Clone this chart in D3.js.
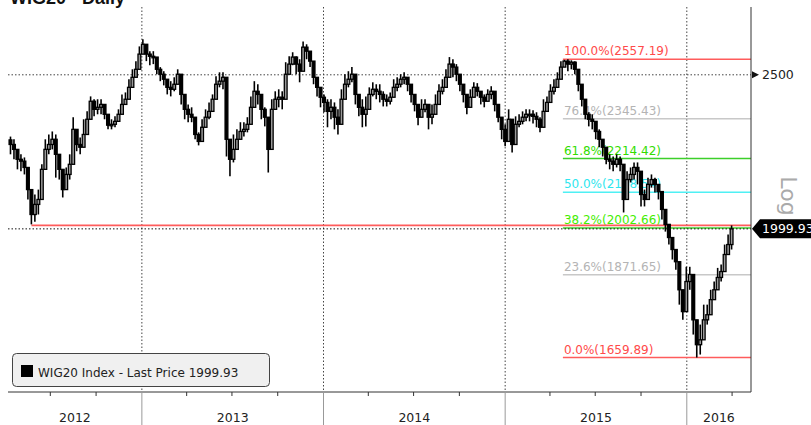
<!DOCTYPE html>
<html><head><meta charset="utf-8">
<script src="https://cdn.jsdelivr.net/npm/d3@7"></script>
<style>html,body{margin:0;padding:0;background:#fff;overflow:hidden}</style>
</head><body>
<svg id="c" width="811" height="425"></svg>
<script>
const title = "WIG20 - Daily";
const firstWeek = "2012-04-09";
const firstOpen = 2275;
const closes = [
2260,2244,2212,2206,2186,2117,2042,2072,2087,2180,
2244,2260,2277,2228,2180,2117,2164,2196,2310,2260,
2251,2293,2344,2406,2378,2385,2395,2361,2324,2327,
2337,2361,2395,2413,2455,2491,2520,2576,2613,2576,
2568,2565,2520,2502,2484,2455,2448,2466,2502,2430,
2378,2361,2351,2293,2270,2317,2351,2371,2413,2466,
2477,2491,2277,2212,2244,2277,2303,2310,2327,2385,
2441,2430,2378,2351,2244,2378,2413,2420,2413,2502,
2539,2565,2539,2513,2602,2587,2550,2491,2455,2420,
2402,2371,2385,2351,2327,2413,2466,2484,2502,2430,
2385,2361,2378,2430,2448,2441,2430,2413,2406,2420,
2455,2466,2484,2491,2466,2430,2395,2351,2378,2395,
2351,2361,2395,2441,2455,2491,2539,2528,2502,2466,
2430,2385,2420,2455,2441,2420,2406,2430,2441,2395,
2351,2310,2270,2344,2260,2327,2337,2351,2361,2361,
2354,2344,2317,2371,2402,2441,2455,2484,2528,2550,
2539,2546,2520,2466,2413,2361,2344,2337,2303,2277,
2251,2212,2206,2196,2212,2196,2087,2148,2164,2186,
2174,2102,2087,2133,2148,2133,2111,2057,2013,1975,
1941,1907,1831,1774,1853,1872,1753,1691,1703,1753,
1766,1805,1831,1864,1880,1927,1955,1999.93];
const highs = [
2286,2277,2244,2228,2218,2174,2102,2102,2117,2196,
2277,2293,2303,2293,2202,2164,2186,2228,2351,2310,
2283,2344,2371,2423,2413,2413,2413,2395,2361,2344,
2354,2378,2430,2437,2484,2520,2550,2605,2632,2605,
2587,2587,2557,2528,2513,2484,2477,2491,2520,2502,
2423,2395,2385,2344,2300,2344,2378,2402,2430,2495,
2509,2509,2466,2277,2293,2310,2334,2334,2351,2423,
2477,2466,2420,2385,2317,2413,2441,2448,2441,2546,
2568,2583,2568,2557,2624,2613,2587,2520,2484,2441,
2430,2413,2413,2402,2378,2448,2502,2513,2528,2466,
2430,2413,2423,2455,2473,2466,2466,2441,2430,2437,
2484,2491,2502,2509,2491,2466,2430,2385,2413,2413,
2378,2395,2430,2466,2484,2520,2565,2557,2539,2491,
2459,2413,2448,2473,2470,2437,2430,2448,2459,2430,
2395,2344,2327,2378,2310,2354,2361,2371,2378,2378,
2375,2368,2351,2413,2423,2466,2484,2509,2550,2555,
2557.19,2553,2550,2513,2448,2395,2368,2361,2327,2310,
2277,2244,2228,2221,2228,2221,2180,2174,2186,2202,
2202,2148,2117,2154,2164,2154,2133,2102,2042,2004,
1969,1935,1890,1818,1893,1893,1805,1728,1741,1792,
1792,1831,1853,1890,1899,1955,1984,2010];
const lows = [
2228,2212,2180,2174,2164,2087,2013,2021,2042,2087,
2196,2228,2244,2154,2148,2093,2133,2148,2244,2238,
2228,2260,2293,2361,2354,2361,2361,2344,2310,2310,
2317,2337,2371,2395,2420,2466,2491,2550,2576,2550,
2535,2539,2502,2477,2462,2430,2423,2441,2477,2395,
2344,2334,2334,2277,2257,2283,2327,2344,2378,2441,
2455,2448,2221,2158,2202,2244,2283,2286,2300,2354,
2413,2395,2344,2320,2170,2327,2378,2385,2378,2466,
2513,2535,2502,2473,2557,2557,2528,2466,2423,2385,
2368,2317,2344,2310,2293,2378,2441,2455,2473,2395,
2354,2317,2320,2413,2423,2413,2402,2388,2388,2395,
2430,2441,2455,2466,2441,2402,2371,2324,2361,2368,
2310,2327,2361,2413,2430,2459,2513,2491,2477,2441,
2402,2361,2385,2430,2423,2395,2385,2406,2413,2371,
2334,2277,2254,2300,2234,2300,2317,2327,2337,2337,
2330,2317,2300,2344,2378,2423,2430,2459,2502,2528,
2513,2520,2502,2441,2388,2344,2320,2310,2277,2251,
2221,2196,2180,2174,2186,2174,2048,2102,2139,2148,
2133,2066,2066,2102,2123,2108,2087,2027,1992,1955,
1913,1885,1792,1753,1779,1831,1716,1659.89,1667,1716,
1741,1779,1805,1845,1853,1899,1927,1941];
const yearLabels = ["2012","2013","2014","2015","2016"];
const yTicks = [2500];
const lastPrice = 1999.93;
const supportLevel = 2010;
const supportStart = "2012-05-24";
const fibHigh = 2557.19, fibLow = 1659.89;
const fibStart = "2015-04-27";
const fibRatios = [1, 0.764, 0.618, 0.5, 0.382, 0.236, 0];
const fibLineColors = ["#ff5c5c","#c8c8c8","#3ccf2a","#4ff0f4","#3ccf2a","#c8c8c8","#ff5c5c"];
const fibTextColors = ["#ff4a4a","#b4b4b4","#33dd00","#2ee6ee","#44ee00","#b4b4b4","#ff4a4a"];
const legendLabel = "WIG20 Index - Last Price 1999.93";
const scaleLabel = "Log";

const L = 8, R = 751, T = 7, B = 392;
const svg = d3.select("#c");
const FONT = "DejaVu Sans, Verdana, sans-serif";
const parse = d3.utcParse("%Y-%m-%d");

const x = d3.scaleUtc().domain([new Date(Date.UTC(2012,3,7)), new Date(Date.UTC(2016,4,9))]).range([L, R]);
const y = d3.scaleLog().domain([1579, 2758]).range([B, T]);

const w0 = parse(firstWeek);
const data = closes.map((c, i) => ({
  date: d3.utcDay.offset(w0, i * 7 + 3),
  open: i === 0 ? firstOpen : closes[i - 1],
  close: c, high: highs[i], low: lows[i]
}));

// title (cut off at top as in reference)
svg.append("text").attr("x", 10).attr("y", 4)
  .attr("font-family", "Liberation Sans, Arial, sans-serif").attr("font-weight", "bold")
  .attr("font-size", 18).attr("fill", "#111").text(title);

// grid: year boundaries
const years = d3.utcYear.range(x.domain()[0], x.domain()[1]).filter(d => x(d) > L + 1);
const g = svg.append("g");
g.selectAll("line.vg").data(years).join("line")
  .attr("x1", d => x(d)).attr("x2", d => x(d)).attr("y1", T).attr("y2", B)
  .attr("stroke", "#444").attr("stroke-dasharray", "1.5,2");
g.selectAll("line.hg").data(yTicks).join("line")
  .attr("x1", L).attr("x2", R).attr("y1", d => y(d)).attr("y2", d => y(d))
  .attr("stroke", "#444").attr("stroke-dasharray", "1.5,2");

// fib lines and labels
const fx = x(parse(fibStart));
const fibs = fibRatios.map((r, i) => ({ r, v: fibLow + r * (fibHigh - fibLow), lc: fibLineColors[i], tc: fibTextColors[i] }));
g.selectAll("line.fib").data(fibs).join("line")
  .attr("x1", fx).attr("x2", R).attr("y1", d => y(d.v)).attr("y2", d => y(d.v))
  .attr("stroke", d => d.lc).attr("stroke-width", 1.5);
g.selectAll("text.fib").data(fibs).join("text")
  .attr("x", fx + 1).attr("y", d => y(d.v) - 4)
  .attr("font-family", FONT).attr("font-size", 12).attr("fill", d => d.tc)
  .text(d => (d.r * 100).toFixed(1) + "%(" + d.v.toFixed(2) + ")");

// support line
g.append("line").attr("x1", x(parse(supportStart))).attr("x2", R)
  .attr("y1", y(supportLevel)).attr("y2", y(supportLevel))
  .attr("stroke", "#ff5c5c").attr("stroke-width", 1.6);

// candles
const cw = 2.8;
const cg = svg.append("g");
cg.selectAll("line.wick").data(data).join("line")
  .attr("x1", d => x(d.date)).attr("x2", d => x(d.date))
  .attr("y1", d => y(Math.max(d.high, d.open, d.close)))
  .attr("y2", d => y(Math.min(d.low, d.open, d.close)))
  .attr("stroke", "#000").attr("stroke-width", 1.6);
cg.selectAll("rect.body").data(data).join("rect")
  .attr("x", d => x(d.date) - cw / 2).attr("width", cw)
  .attr("y", d => y(Math.max(d.open, d.close)))
  .attr("height", d => Math.max(1.5, Math.abs(y(d.open) - y(d.close))))
  .attr("fill", d => d.close >= d.open ? "#9a9a9a" : "#000")
  .attr("stroke", "#000").attr("stroke-width", 1.3);

// last price dotted line
svg.append("line").attr("x1", L).attr("x2", R)
  .attr("y1", y(lastPrice)).attr("y2", y(lastPrice))
  .attr("stroke", "#111").attr("stroke-dasharray", "1.5,2");

// axes frame
svg.append("line").attr("x1", L).attr("x2", R).attr("y1", B).attr("y2", B).attr("stroke", "#333");
svg.append("line").attr("x1", R).attr("x2", R).attr("y1", T).attr("y2", B).attr("stroke", "#333");

// x ticks
const quarters = d3.utcMonth.every(3).range(x.domain()[0], x.domain()[1]).filter(d => d.getUTCMonth() !== 0 && x(d) > L + 2);
svg.selectAll("line.qt").data(quarters).join("line")
  .attr("x1", d => x(d)).attr("x2", d => x(d)).attr("y1", B).attr("y2", B + 4).attr("stroke", "#333");
svg.selectAll("line.yt").data(years).join("line")
  .attr("x1", d => x(d)).attr("x2", d => x(d)).attr("y1", B).attr("y2", 425).attr("stroke", "#999");
const bounds = [L, ...years.map(d => x(d)), R];
svg.selectAll("text.yl").data(yearLabels).join("text")
  .attr("x", (d, i) => (bounds[i] + bounds[i + 1]) / 2).attr("y", 422)
  .attr("text-anchor", "middle").attr("font-family", FONT).attr("font-size", 12.5).attr("fill", "#222")
  .text(d => d);

// right axis tick
yTicks.forEach(v => {
  const yy = y(v);
  svg.append("path").attr("d", `M${R + 1},${yy - 3.5}L${R + 8},${yy}L${R + 1},${yy + 3.5}Z`).attr("fill", "#111");
  svg.append("text").attr("x", R + 11).attr("y", yy + 4.5).attr("font-family", FONT).attr("font-size", 12.5)
    .attr("fill", "#222").text(v);
});

// last price tag
const ly = y(lastPrice);
svg.append("path").attr("d", `M${R + 1},${ly}L${R + 9},${ly - 9.5}L811,${ly - 9.5}L811,${ly + 9.5}L${R + 9},${ly + 9.5}Z`).attr("fill", "#000");
svg.append("text").attr("x", R + 11).attr("y", ly + 4.5).attr("font-family", FONT).attr("font-size", 12.5)
  .attr("fill", "#fff").text(lastPrice.toFixed(2));

// Log label
svg.append("text").attr("transform", "translate(781,196) rotate(90)")
  .attr("text-anchor", "middle").attr("font-family", FONT).attr("font-size", 22).attr("fill", "#aaa")
  .text(scaleLabel);

// legend
const lg = svg.append("g");
lg.append("rect").attr("x", 12.5).attr("y", 353.5).attr("width", 257).attr("height", 33).attr("rx", 4)
  .attr("fill", "#f0f0f0").attr("stroke", "#444");
lg.append("rect").attr("x", 21).attr("y", 365).attr("width", 12).attr("height", 12).attr("fill", "#000");
lg.append("text").attr("x", 38).attr("y", 376.5).attr("font-family", FONT).attr("font-size", 12)
  .attr("fill", "#222").text(legendLabel);
</script>
</body></html>
